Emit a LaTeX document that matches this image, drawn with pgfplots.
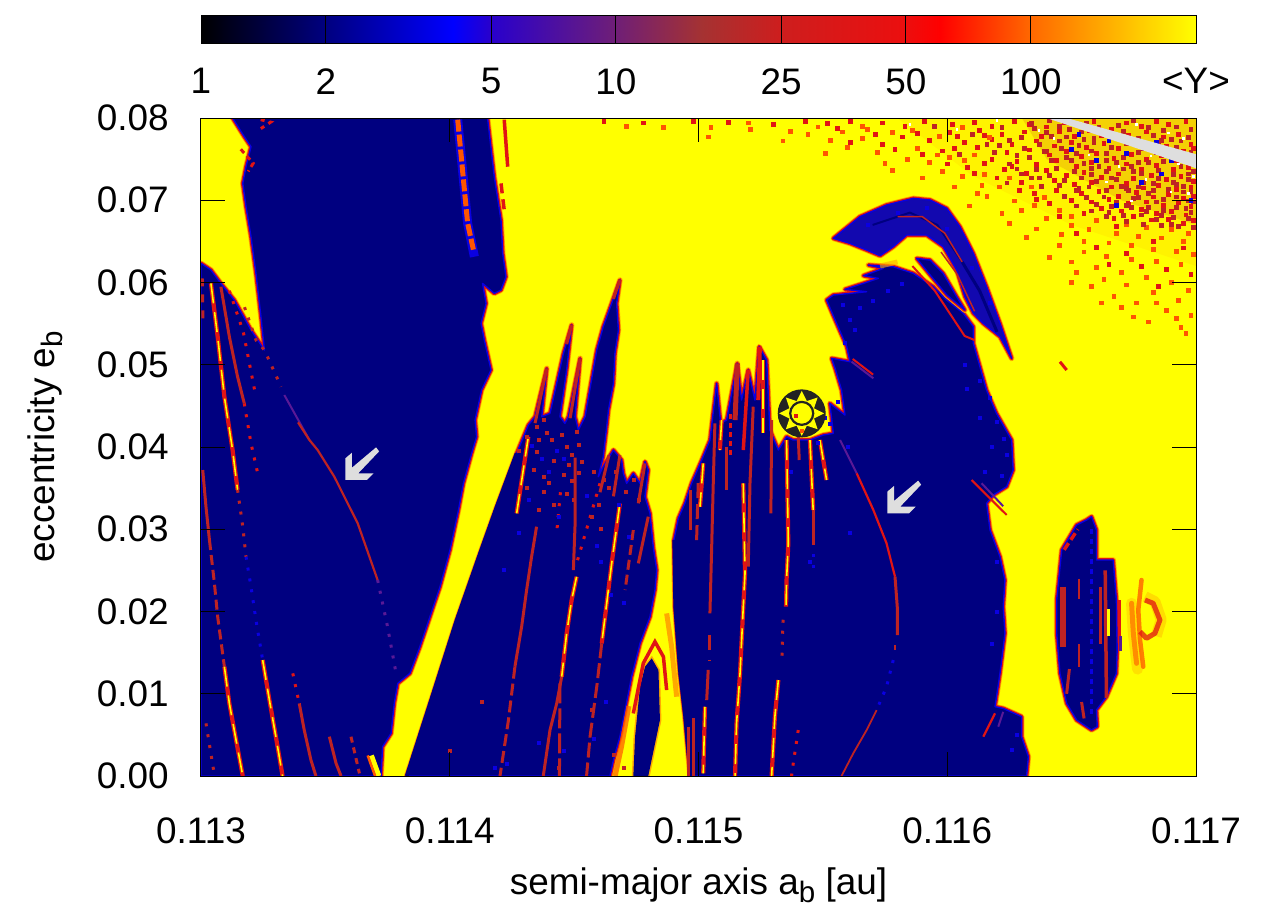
\documentclass[border=0pt]{standalone}
\usepackage{fontspec}
\setmainfont{Liberation Sans}
\usepackage{pgfplots}
\usepackage{pgfplotstable}
\pgfplotsset{compat=1.18}

\definecolor{mapyellow}{RGB}{255,255,0}
\definecolor{mapnavy}{RGB}{0,0,128}
\definecolor{mapblue}{RGB}{10,0,225}
\definecolor{crescent}{RGB}{18,8,175}
\definecolor{mapbrick}{RGB}{190,35,35}
\definecolor{mapred}{RGB}{225,20,20}
\definecolor{maporange}{RGB}{255,85,0}
\definecolor{mapamber}{RGB}{255,170,0}
\definecolor{mappurple}{RGB}{90,25,150}
\definecolor{mapgray}{RGB}{222,222,222}
\definecolor{sundark}{RGB}{35,35,35}

\newcommand\labelfont{\fontsize{10.5}{12}\selectfont}
\newcommand\sub[1]{\raisebox{-0.4ex}{\fontsize{8.4}{8}\selectfont #1}}

% sun symbol, sizes in the same 0.1mm = 1px scale as the axes
\pgfdeclareplotmark{sunmark}{%
  \pgfsetfillcolor{sundark}%
  \pgfpathcircle{\pgfpointorigin}{2.4mm}\pgfusepathqfill
  \pgfsetfillcolor{mapyellow}%
  \foreach \a in {0,45,...,315}{%
    \pgfmathsetmacro\pa{\a+27}\pgfmathsetmacro\pb{\a-27}%
    \pgfpathmoveto{\pgfpointpolar{\a}{2.25mm}}%
    \pgfpathlineto{\pgfpointpolar{\pa}{1.25mm}}%
    \pgfpathlineto{\pgfpointpolar{\pb}{1.25mm}}%
    \pgfpathclose\pgfusepathqfill
  }%
  \pgfsetstrokecolor{sundark}\pgfsetlinewidth{0.22mm}%
  \pgfpathcircle{\pgfpointorigin}{1.15mm}\pgfusepathqfillstroke
}

% stable regions: outlines read off the map
\pgfplotstableread{
x y
0.113000 0
0.113000 0.06233
0.113040 0.06152
0.113080 0.05989
0.113134 0.05787
0.113201 0.05422
0.113255 0.05179
0.113241 0.05584
0.113221 0.06111
0.113201 0.06557
0.113181 0.06922
0.113168 0.07205
0.113181 0.07408
0.113201 0.07651
0.113174 0.07773
0.113127 0.08000
0.114152 0.08000
0.114179 0.07286
0.114206 0.06760
0.114213 0.06354
0.114226 0.06070
0.114206 0.05908
0.114179 0.05868
0.114132 0.05989
0.114146 0.05746
0.114126 0.05503
0.114139 0.05300
0.114166 0.04936
0.114128 0.04693
0.114102 0.04328
0.114108 0.04125
0.114088 0.03923
0.114055 0.03558
0.114035 0.03234
0.114001 0.02747
0.113961 0.02302
0.113907 0.01815
0.113880 0.01572
0.113840 0.01248
0.113791 0.01126
0.113777 0.00883
0.113764 0.00518
0.113730 0.00356
0.113724 0
}\polyA

\pgfplotstableread{
x y
0.113827 0
0.113934 0.01005
0.114028 0.01896
0.114122 0.02707
0.114189 0.03274
0.114269 0.03923
0.114316 0.04267
0.114343 0.04369
0.114390 0.04956
0.114370 0.04369
0.114403 0.04409
0.114457 0.05139
0.114490 0.05483
0.114470 0.04936
0.114443 0.04369
0.114463 0.04288
0.114477 0.04369
0.114524 0.05078
0.114504 0.04369
0.114517 0.04207
0.114544 0.04369
0.114591 0.05179
0.114617 0.05463
0.114658 0.05807
0.114684 0.06030
0.114671 0.05747
0.114678 0.05422
0.114664 0.05139
0.114658 0.04774
0.114638 0.04450
0.114631 0.04247
0.114617 0.03882
0.114597 0.03639
0.114617 0.03761
0.114658 0.03963
0.114691 0.03842
0.114698 0.03680
0.114711 0.03558
0.114738 0.03680
0.114765 0.03558
0.114785 0.03822
0.114798 0.03720
0.114785 0.03396
0.114805 0.03193
0.114818 0.02788
0.114832 0.02504
0.114825 0.02261
0.114805 0.01937
0.114765 0.01613
0.114731 0.01207
0.114684 0.00478
0.114658 0.00194
0.114644 0
}\polyB

\pgfplotstableread{
x y
0.114738 0
0.114745 0.00478
0.114765 0.01086
0.114785 0.01329
0.114812 0.01430
0.114839 0.01288
0.114845 0.00680
0.114798 0
}\polyC

\pgfplotstableread{
x y
0.114966 0
0.114945 0.00721
0.114925 0.01248
0.114905 0.02059
0.114901 0.02869
0.114919 0.03133
0.114945 0.03315
0.114972 0.03558
0.115013 0.03842
0.115046 0.04085
0.115073 0.04774
0.115089 0.04288
0.115113 0.04328
0.115156 0.05017
0.115173 0.04571
0.115200 0.04936
0.115227 0.04571
0.115244 0.05220
0.115274 0.05058
0.115287 0.04207
0.115321 0.03964
0.115354 0.04126
0.115381 0.04085
0.115448 0.04085
0.115502 0.04146
0.115542 0.04166
0.115528 0.04531
0.115589 0.04389
0.115575 0.04693
0.115549 0.04956
0.115535 0.05078
0.115609 0.05037
0.115596 0.05219
0.115555 0.05503
0.115515 0.05787
0.115542 0.05848
0.115676 0.05888
0.115589 0.05917
0.115723 0.06050
0.115663 0.06083
0.115743 0.06172
0.115683 0.06212
0.115783 0.06192
0.115864 0.06111
0.115944 0.05949
0.115998 0.05787
0.116065 0.05625
0.116105 0.05463
0.116105 0.05260
0.116158 0.04692
0.116198 0.04409
0.116259 0.04085
0.116265 0.03720
0.116239 0.03518
0.116185 0.03416
0.116158 0.03315
0.116172 0.02991
0.116212 0.02667
0.116232 0.02383
0.116225 0.02059
0.116232 0.01734
0.116212 0.01248
0.116192 0.00843
0.116225 0.00822
0.116299 0.00722
0.116299 0.00478
0.116326 0.00235
0.116319 0
}\polyD

\pgfplotstableread{
x y
0.115542 0.06537
0.115649 0.06800
0.115756 0.06942
0.115864 0.07023
0.115931 0.07003
0.115998 0.06901
0.116051 0.06678
0.116105 0.06354
0.116158 0.05949
0.116212 0.05503
0.116259 0.05077
0.116212 0.05341
0.116145 0.05503
0.116105 0.05625
0.116071 0.05827
0.116038 0.06152
0.115984 0.06435
0.115917 0.06577
0.115837 0.06577
0.115783 0.06435
0.115730 0.06326
0.115676 0.06395
0.115609 0.06476
}\polyE

\pgfplotstableread{
x y
0.115877 0.06293
0.115931 0.06273
0.115984 0.06110
0.116038 0.05827
0.116071 0.05665
0.115998 0.05848
0.115931 0.06091
}\polyF

\pgfplotstableread{
x y
0.116580 0.03153
0.116600 0.02991
0.116600 0.02626
0.116667 0.02626
0.116680 0.02140
0.116683 0.01532
0.116680 0.01248
0.116640 0.00965
0.116600 0.00803
0.116603 0.00600
0.116580 0.00560
0.116520 0.00681
0.116480 0.00884
0.116453 0.01248
0.116440 0.01735
0.116440 0.02140
0.116460 0.02748
0.116520 0.03052
0.116560 0.03113
}\polyG

\newcommand\blob[2][mapnavy]{%
  \addplot[draw=mapamber, line width=.55mm, line join=round] table {#2} -- cycle;
  \addplot[draw=mapred, line width=.38mm, line join=round] table {#2} -- cycle;
  \addplot[fill=#1, draw=mapblue, line width=.14mm, line join=round] table {#2} -- cycle;
}
% chaotic line with a yellow core
\newcommand\hotline[1]{%
  \addplot[draw=mapred, line width=.42mm] coordinates {#1};
  \addplot[draw=mapyellow, line width=.16mm, dash pattern=on 2mm off .9mm] coordinates {#1};
}
\pgfplotsset{
  thin line/.style={draw=mapbrick, line width=.3mm},
  sparse/.style={draw=#1, line width=.3mm, dash pattern=on .3mm off .8mm},
  speck/.style={only marks, mark=square*, mark size=.15mm, color=#1, mark options={solid, line width=0pt, fill=#1, draw=#1}},
  sea/.style={only marks, mark=square*, mark size=.19mm, color=#1, mark options={solid, line width=0pt, fill=#1, draw=#1}},
}

\begin{document}
\begin{tikzpicture}
\path[use as bounding box] (-2.01,-1.44) rectangle (10.79,7.76);

% colour scale
\begin{axis}[
  at={(0cm,7.32cm)}, anchor=south west,
  scale only axis, width=9.95cm, height=0.29cm,
  xmode=log, xmin=1, xmax=250, ymin=0, ymax=1,
  ytick=\empty,
  xtick={1,2,5,10,25,50,100,250},
  xticklabels={1,2,5,10,25,50,100,{<Y>}},
  minor xtick={},
  xtick pos=bottom,
  tick align=inside, major tick length=0.29cm,
  tick style={black, line width=.1mm},
  axis line style={black, line width=.1mm},
  xticklabel style={font=\labelfont, yshift=-1.2mm},
  axis on top,
  colormap={megno}{
    rgb255(0pt)=(0,0,0);
    rgb255(125pt)=(0,0,128);
    rgb255(252pt)=(0,0,255);
    rgb255(289pt)=(40,0,205);
    rgb255(413pt)=(110,30,120);
    rgb255(501pt)=(165,50,50);
    rgb255(578pt)=(205,30,30);
    rgb255(702pt)=(235,15,15);
    rgb255(739pt)=(255,0,0);
    rgb255(826pt)=(255,100,0);
    rgb255(995pt)=(255,255,0)
  },
]
\addplot[surf, shader=interp, mesh/rows=2, point meta=\thisrow{m}] table {
x y m
1 0 0
250 0 995
1 1 0
250 1 995
};
\end{axis}

% dynamical map
\begin{axis}[
  at={(0cm,0cm)}, anchor=south west,
  scale only axis, width=9.95cm, height=6.58cm,
  xmin=0.113, xmax=0.117, ymin=0, ymax=0.08,
  xtick={0.113,0.114,0.115,0.116,0.117},
  ytick={0,0.01,...,0.08},
  scaled x ticks=false, scaled y ticks=false,
  xticklabel style={/pgf/number format/.cd, fixed, zerofill, precision=3, assume math mode=true, /tikz/.cd, yshift=-2.9mm},
  yticklabel style={/pgf/number format/.cd, fixed, zerofill, precision=2, assume math mode=true, /tikz/.cd, xshift=-2mm},
  tick label style={font=\labelfont},
  label style={font=\labelfont},
  x label style={at={(axis description cs:0.5,0)}, anchor=center, yshift=-1.09cm},
  y label style={at={(axis description cs:0,0.5)}, anchor=center, yshift=1.56cm},
  tick align=inside, major tick length=0.24cm,
  tick style={black, line width=.1mm},
  axis line style={black, line width=.1mm},
  xlabel={semi-major axis a\sub{b} [au]},
  ylabel={eccentricity e\sub{b}},
  axis background/.style={fill=mapyellow},
  axis on top,
  clip mode=individual,
]

% haze of the chaotic sea, densest at the upper right
\addplot[fill=maporange, draw=none, opacity=.07] coordinates {(0.1158,0.08)(0.117,0.08)(0.117,0.0620)(0.1165,0.0670)(0.1161,0.0730)} -- cycle;
\addplot[fill=mapbrick, draw=none, opacity=.16] coordinates {(0.1163,0.08)(0.117,0.08)(0.117,0.0670)(0.1167,0.0700)(0.1164,0.0750)} -- cycle;

\blob{\polyA}
\blob{\polyB}
\blob{\polyD}
\blob[crescent]{\polyE}
\blob{\polyF}
\blob{\polyG}

% sharp edges on the right of the wide band
\addplot[draw=mapnavy, line width=.38mm] coordinates {(0.113827,0)(0.113934,0.01005)(0.114028,0.01896)(0.114122,0.02707)(0.114189,0.03274)(0.114269,0.03923)};
\addplot[draw=mapnavy, line width=.3mm] coordinates {(0.114966,0)(0.114945,0.00721)(0.114925,0.01248)(0.114905,0.02059)(0.114901,0.02869)};

% second oval below the arc
\addplot[draw=mapamber, line width=.3mm] coordinates {(0.114738,0)(0.114745,0.00478)(0.114765,0.01086)(0.114785,0.01329)(0.114812,0.0143)(0.114839,0.01288)(0.114845,0.0068)(0.114798,0)};
\addplot[fill=mapnavy, draw=none] table {\polyC} -- cycle;
\addplot[draw=mapred, line width=.35mm] coordinates {(0.114738,0.00761)(0.114778,0.0137)(0.114825,0.01633)(0.114859,0.0145)(0.114872,0.01045)};
\addplot[draw=maporange, line width=.5mm, opacity=.5] coordinates {(0.114872,0.01977)(0.114892,0.01572)(0.114912,0.00964)};
\addplot[draw=maporange, line width=.5mm, opacity=.7] coordinates {(0.114665,0)(0.114690,0.0035)(0.114720,0.0085)};

% top left: chaotic strip inside the stable island
\addplot[draw=mapblue, line width=.9mm] coordinates {(0.114032,0.0798)(0.114045,0.0757)(0.114059,0.07124)(0.114072,0.06719)(0.114099,0.06314)};
\addplot[draw=maporange, line width=.5mm, dash pattern=on 1.2mm off .3mm] coordinates {(0.114032,0.0798)(0.114045,0.0757)(0.114059,0.07124)(0.114072,0.06719)(0.114095,0.0640)};
\addplot[draw=mapred, line width=.35mm] coordinates {(0.114219,0.0798)(0.114233,0.07408)};
\addplot[draw=mapred, line width=.35mm, dash pattern=on 1mm off .6mm] coordinates {(0.114206,0.07205)(0.114219,0.0688)};
\addplot[draw=mapred, line width=.3mm, dash pattern=on .4mm off .5mm] coordinates {(0.11324,0.0798)(0.11328,0.0795)(0.11323,0.0785)};
\addplot[draw=mapred, line width=.3mm, dash pattern=on .5mm off .4mm] coordinates {(0.11316,0.0762)(0.11321,0.0745)(0.11319,0.0735)};
\addplot[thin line, dash pattern=on .8mm off .8mm] coordinates {(0.113005,0.0605)(0.113008,0.0555)};

% lines in the left island
\hotline{(0.113040,0.05989)(0.113067,0.05341)(0.113094,0.04611)(0.113127,0.03963)(0.113147,0.0348)}
\addplot[sparse=mapbrick] coordinates {(0.113147,0.0348)(0.113168,0.03031)(0.113181,0.02666)};
\addplot[sparse=mapblue] coordinates {(0.113181,0.02666)(0.113201,0.02302)(0.113221,0.01896)(0.113248,0.0141)};
\hotline{(0.113248,0.0141)(0.113275,0.00924)(0.113301,0.00478)(0.113328,0)}
\addplot[thin line] coordinates {(0.113007,0.0372)(0.11302,0.03274)(0.113034,0.02869)};
\addplot[thin line, dash pattern=on 1mm off .5mm] coordinates {(0.113034,0.02869)(0.113054,0.02342)(0.113067,0.01937)(0.113094,0.01329)};
\hotline{(0.113094,0.01329)(0.113114,0.00883)(0.113141,0.00437)(0.113168,0)}
\addplot[thin line] coordinates {(0.11308,0.05949)(0.113114,0.05341)(0.113147,0.04855)(0.113174,0.0453)};
\addplot[sparse=mapred] coordinates {(0.113174,0.0453)(0.113201,0.04044)(0.113228,0.0368)};
\addplot[sparse=mapred] coordinates {(0.113114,0.0590)(0.11317,0.0540)(0.113215,0.0470)};
\addplot[sparse=mapbrick] coordinates {(0.113175,0.0570)(0.113221,0.0530)(0.113255,0.05179)(0.113322,0.04733)};
\addplot[draw=mappurple, line width=.2mm] coordinates {(0.113335,0.04632)(0.113436,0.04085)};
\addplot[draw=mapbrick, line width=.22mm] coordinates {(0.113390,0.04300)(0.113436,0.04085)(0.113469,0.03963)(0.113536,0.03639)(0.11363,0.03072)(0.11371,0.02383)};
\addplot[sparse=mappurple] coordinates {(0.11371,0.02383)(0.11375,0.01815)(0.113784,0.0125)};
\addplot[sparse=mapred] coordinates {(0.113369,0.01248)(0.113395,0.00883)};
\addplot[thin line] coordinates {(0.113395,0.00883)(0.113415,0.00559)(0.113442,0.00194)(0.113462,0)};
\addplot[thin line] coordinates {(0.113516,0.00478)(0.113543,0.00154)(0.113563,0)};
\addplot[thin line, dash pattern=on .6mm off .5mm] coordinates {(0.113603,0.00478)(0.113637,0.00032)};
\addplot[sparse=mapbrick] coordinates {(0.11302,0.0064)(0.113054,0.0001)};
\addplot[draw=mapyellow, line width=.5mm] coordinates {(0.113685,0.0025)(0.113715,0)};
\addplot[draw=maporange, line width=.25mm] coordinates {(0.113670,0.0025)(0.113700,0)};

% lines in the second group
\addplot[thin line] coordinates {(0.114349,0.03031)(0.114329,0.02666)(0.114309,0.02261)(0.114289,0.01815)(0.114262,0.01329)};
\addplot[thin line, dash pattern=on 1.2mm off .5mm] coordinates {(0.114262,0.01329)(0.114236,0.0068)(0.114202,0)};
\hotline{(0.11451,0.02423)(0.11449,0.0214)(0.11447,0.01734)(0.11445,0.01207)}
\addplot[thin line] coordinates {(0.11445,0.01207)(0.11443,0.00883)(0.114403,0.00559)(0.114376,0)};
\addplot[thin line, dash pattern=on 2mm off .5mm] coordinates {(0.114443,0.01126)(0.114441,0)};
\addplot[thin line] coordinates {(0.114504,0.0387)(0.114504,0.03072)(0.114497,0.02504)};
\addplot[sparse=mapred] coordinates {(0.114445,0.0345)(0.114430,0.0296)};
\hotline{(0.114684,0.03315)(0.114651,0.02585)(0.114631,0.02099)(0.114611,0.01613)}
\addplot[thin line, dash pattern=on 1.5mm off .5mm] coordinates {(0.114611,0.01613)(0.114591,0.01086)(0.114564,0.00478)(0.11455,0)};
\addplot[sparse=mapred] coordinates {(0.114604,0.03558)(0.11451,0.02585)};
\addplot[thin line] coordinates {(0.114798,0.03153)(0.114758,0.02585)};
\addplot[thin line, dash pattern=on 1mm off .5mm] coordinates {(0.114738,0.0299)(0.114705,0.02261)};
\addplot[thin line] coordinates {(0.114785,0.03801)(0.114758,0.03315)};
\addplot[thin line] coordinates {(0.11439,0.04956)(0.114343,0.04290)};
\addplot[thin line] coordinates {(0.114524,0.05078)(0.114484,0.04350)};
\addplot[thin line] coordinates {(0.11449,0.05483)(0.11447,0.0525)};
\addplot[thin line] coordinates {(0.114684,0.0603)(0.114658,0.0580)};
\hotline{(0.114316,0.04125)(0.114269,0.03193)}
\addplot[thin line] coordinates {(0.114640,0.0390)(0.114604,0.0345)};
\addplot[thin line] coordinates {(0.114684,0.0390)(0.114658,0.0340)};
\addplot[speck=mapbrick] coordinates {
(.11435,.04247)(.11438,.04328)(.11439,.04166)(.11435,.03943)(.11431,.04120)(.11436,.04090)(.11441,.04080)(.11428,.03950)
(.11434,.03720)(.11438,.03640)(.11440,.03560)(.11445,.04140)(.11447,.04000)(.11449,.03900)(.11452,.04020)(.11451,.04180)
(.11448,.03780)(.11446,.03660)(.11442,.03830)(.11453,.03820)(.11449,.03590)(.11447,.03430)(.11442,.03300)(.11436,.03240)
(.11450,.03350)(.11452,.03680)(.11438,.03450)(.11431,.03500)(.11458,.03700)(.11462,.03600)(.11460,.03300)(.11457,.03150)
(.11467,.03700)(.11464,.03500)(.11461,.03000)(.11474,.03600)(.11471,.03450)(.11476,.03350)};
\addplot[speck=mapblue] coordinates {
(.11433,.04010)(.11437,.03850)(.11443,.03950)(.11446,.03850)(.11440,.03700)(.11432,.03350)(.11428,.02950)(.11422,.02500)
(.11444,.03150)(.11455,.03400)(.11459,.02800)(.11468,.03300)(.11472,.02900)(.11465,.02200)(.11470,.02100)(.11418,.00100)
(.11461,.02600)(.11463,.00900)(.11458,.00450)(.11436,.00400)(.11446,.00300)(.11423,.00150)};
\addplot[speck=mapbrick] coordinates {
(.11413,.00900)(.11400,.00300)(.11444,.00100)(.11457,.00800)(.11470,.00100)(.11466,.00250)};

% lines in the third group
\addplot[thin line] coordinates {(0.114966,0.03477)(0.114966,0.0299)};
\addplot[thin line, dash pattern=on 1.5mm off .6mm] coordinates {(0.114999,0.0356)(0.114992,0.0283)};
\addplot[thin line] coordinates {(0.115066,0.04288)(0.115059,0.03518)(0.115053,0.02788)(0.115046,0.01977)};
\addplot[draw=mapbrick, line width=.3mm, dash pattern=on 1.5mm off 1mm] coordinates {(0.115043,0.0172)(0.115043,0.0140)};
\addplot[thin line] coordinates {(0.115039,0.0129)(0.115033,0.00923)};
\hotline{(0.115026,0.00842)(0.115019,0.00032)}
\addplot[thin line] coordinates {(0.114959,0.006)(0.114959,0)};
\addplot[thin line] coordinates {(0.114979,0.0070)(0.114979,0)};
\addplot[thin line] coordinates {(0.115113,0.04004)(0.115113,0.03477)};
\addplot[draw=mapbrick, line width=.5mm] coordinates {(0.115156,0.05017)(0.115147,0.04328)};
\addplot[draw=mapred, line width=.35mm] coordinates {(0.1152,0.04936)(0.11518,0.03963)};
\addplot[draw=mapred, line width=.4mm] coordinates {(0.115247,0.0522)(0.11524,0.04571)};
\hotline{(0.115019,0.03801)(0.115006,0.03274)}
\hotline{(0.115093,0.04328)(0.115086,0.03963)}
\hotline{(0.115180,0.03558)(0.115187,0.02464)(0.115180,0.02059)(0.115167,0.01248)(0.115153,0.0064)(0.115147,0)}
\addplot[thin line] coordinates {(0.11522,0.0449)(0.115207,0.03558)(0.1152,0.02545)};
\hotline{(0.11526,0.05058)(0.11526,0.04166)}
\addplot[thin line] coordinates {(0.115294,0.04328)(0.115291,0.03194)};
\hotline{(0.115354,0.04085)(0.115361,0.02829)(0.115354,0.02383)(0.115352,0.02059)}
\addplot[sparse=mapbrick] coordinates {(0.115340,0.0190)(0.115335,0.0140)};
\hotline{(0.115321,0.01167)(0.115307,0.00721)(0.115294,0)}
\hotline{(0.115448,0.04085)(0.115461,0.03234)}
\addplot[thin line] coordinates {(0.115461,0.03234)(0.115461,0.02809)};
\addplot[sparse=mapblue] coordinates {(0.115461,0.0270)(0.115461,0.0250)};
\hotline{(0.115488,0.04085)(0.115515,0.03599)}
\addplot[thin line] coordinates {(0.115401,0.04126)(0.115405,0.03842)};
\addplot[sparse=mapred] coordinates {(0.115401,0.00559)(0.115381,0.00154)(0.115374,0)};
\addplot[draw=mapred, line width=.3mm, dash pattern=on .5mm off .4mm] coordinates {(0.115130,0.0390)(0.115130,0.0440)};

% curve with the second arrow
\addplot[draw=mappurple, line width=.2mm] coordinates {(0.115569,0.04085)(0.115636,0.0368)};
\addplot[draw=mapred, line width=.22mm] coordinates {(0.115636,0.0368)(0.115703,0.03234)(0.115756,0.02829)(0.11579,0.02423)};
\addplot[draw=mapbrick, line width=.3mm] coordinates {(0.11579,0.02423)(0.115799,0.02059)(0.115799,0.01714)};
\addplot[draw=mapbrick, line width=.25mm] coordinates {(0.11579,0.01590)(0.11579,0.01532)};
\addplot[sparse=mapblue] coordinates {(0.115783,0.0141)(0.115756,0.01086)(0.115716,0.00802)};
\addplot[draw=mapbrick, line width=.18mm] coordinates {(0.115716,0.00802)(0.115676,0.00559)(0.115622,0.00275)(0.115575,0)};

% short streaks at the edges of the stable region
\addplot[draw=mappurple, line width=.2mm] coordinates {(0.115615,0.05038)(0.115703,0.04835)};
\addplot[draw=mapred, line width=.2mm] coordinates {(0.116098,0.03599)(0.116239,0.03173)};
\addplot[draw=mappurple, line width=.2mm] coordinates {(0.116138,0.03560)(0.116225,0.03280)};
\addplot[draw=mapred, line width=.22mm] coordinates {(0.116145,0.00478)(0.116192,0.00762)};
\addplot[draw=mappurple, line width=.2mm] coordinates {(0.116205,0.0060)(0.116225,0.0078)};
\addplot[draw=mapred, line width=.3mm] coordinates {(0.116453,0.05037)(0.11648,0.04936)};
\addplot[draw=mapred, line width=.2mm] coordinates {(0.11562,0.05070)(0.115702,0.04880)};

% crescent details
\addplot[draw=mapnavy, line width=.2mm] coordinates {(0.115700,0.0670)(0.115850,0.0685)(0.115960,0.0670)(0.116060,0.0625)};
\addplot[draw=mapbrick, line width=.15mm] coordinates {(0.115800,0.0680)(0.115900,0.0680)(0.115990,0.0660)(0.116080,0.0615)};
\addplot[draw=mapnavy, line width=.3mm] coordinates {(0.116060,0.0625)(0.116130,0.0590)(0.116200,0.0540)};
\addplot[draw=mapbrick, line width=.15mm] coordinates {(0.115975,0.06370)(0.116040,0.0610)(0.116110,0.0565)};
\addplot[draw=mapamber, line width=.5mm, opacity=.6] coordinates {(0.115730,0.0620)(0.115800,0.0625)};
\addplot[draw=mapred, line width=.2mm] coordinates {(0.115860,0.0620)(0.115950,0.0590)(0.116070,0.0535)(0.116110,0.0530)};
\addplot[speck=mapblue] coordinates {
(.11558,.05730)(.11561,.05550)(.11565,.05690)(.11570,.05780)(.11563,.05420)(.11576,.05900)(.11582,.05980)(.11559,.05260)
(.11607,.05000)(.11613,.04800)(.11617,.04600)(.11620,.04300)(.11623,.04100)(.11624,.03900)(.11618,.04000)(.11613,.04350)
(.11608,.04700)(.11622,.03650)(.11615,.03700)(.11620,.02000)(.11618,.01600)(.11628,.00500)(.11626,.00320)(.11620,.02600)
(.11556,.04550)(.11551,.04350)(.11553,.04280)(.11548,.04050)(.11560,.04000)(.11561,.02950)(.11545,.02600)(.11537,.03700)
(.11568,.06700)(.11580,.06850)(.11592,.06900)(.11600,.06650)(.11610,.06180)(.11617,.05750)};

% structure at the lower right
\addplot[draw=mapbrick, line width=.6mm] coordinates {(0.116467,0.02302)(0.116467,0.01572)};
\addplot[draw=mapbrick, line width=.25mm] coordinates {(0.11653,0.02400)(0.11653,0.02150)};
\addplot[draw=mapbrick, line width=.25mm] coordinates {(0.11653,0.01600)(0.11653,0.01330)};
\addplot[draw=mapbrick, line width=.3mm] coordinates {(0.116491,0.01300)(0.116480,0.0100)};
\addplot[draw=mapbrick, line width=.3mm] coordinates {(0.11654,0.0090)(0.11655,0.0070)};
\addplot[draw=mapred, line width=.35mm, dash pattern=on .8mm off .4mm] coordinates {(0.116470,0.02750)(0.116525,0.03000)};
\addplot[draw=mapbrick, line width=.35mm] coordinates {(0.116635,0.02500)(0.116640,0.00950)};
\addplot[draw=mapbrick, line width=.3mm] coordinates {(0.116615,0.02300)(0.116615,0.01600)};
\addplot[draw=mapyellow, line width=.3mm] coordinates {(0.116648,0.02030)(0.116648,0.01700)};
\addplot[draw=mapred, line width=.3mm] coordinates {(0.116691,0.0214)(0.116691,0.0170)};
\addplot[draw=mappurple, line width=.3mm] coordinates {(0.116696,0.0170)(0.116696,0.0152)};
\addplot[draw=mapblue, line width=.3mm, dash pattern=on .5mm off .5mm] coordinates {(0.116580,0.0300)(0.116580,0.0070)};

% spiral to the right of the oval
\addplot[draw=mapamber, line width=1.1mm, opacity=.35, line cap=round] coordinates {(0.116741,0.0210)(0.116748,0.01735)(0.116765,0.0130)};
\addplot[draw=maporange, line width=.45mm, opacity=.75, line cap=round] coordinates {(0.116781,0.02383)(0.116768,0.02018)(0.116775,0.01654)(0.116788,0.01329)};
\addplot[draw=maporange, line width=.5mm, opacity=.6, line cap=round] coordinates {(0.116741,0.021)(0.116748,0.01735)(0.116761,0.0137)};
\addplot[draw=mapamber, line width=1.1mm, opacity=.4, line join=round] coordinates {(0.116795,0.0218)(0.116835,0.0212)(0.116860,0.0190)(0.116840,0.0170)};
\addplot[draw=mapred, line width=.5mm, opacity=.75, line join=round] coordinates {(0.116795,0.0214)(0.116828,0.0210)(0.116855,0.01897)(0.116835,0.01735)(0.116801,0.01674)(0.116775,0.01755)};

% chaotic sea: single grid cells read off the upper right
\addplot[sea=mapred] coordinates {
(.11462,.0796)(.11478,.0794)(.11498,.0796)(.11512,.0795)(.11530,.0792)(.11543,.0796)(.11552,.0793)(.11561,.0796)(.11574,.0794)(.11583,.0790)
(.11591,.0796)(.11602,.0792)(.11611,.0795)(.11618,.0790)(.11627,.0796)(.11633,.0792)(.11640,.0789)(.11647,.0795)(.11653,.0791)(.11659,.0796)
(.11672,.0794)(.11678,.0790)(.11684,.0796)(.11689,.0792)(.11696,.0796)(.11601,.0782)(.11613,.0785)(.11622,.0780)(.11631,.0783)(.11638,.0778)
(.11645,.0784)(.11651,.0778)(.11657,.0785)(.11662,.0779)(.11666,.0786)(.11673,.0779)(.11680,.0783)(.11687,.0777)(.11693,.0780)(.11698,.0768)
(.11582,.0777)(.11593,.0773)(.11607,.0770)(.11618,.0774)(.11626,.0768)(.11636,.0772)(.11643,.0766)(.11650,.0770)(.11656,.0764)(.11663,.0769)
(.11669,.0763)(.11676,.0768)(.11682,.0762)(.11688,.0766)(.11695,.0760)(.11699,.0763)(.11574,.0768)(.11598,.0760)(.11612,.0764)(.11624,.0758)
(.11633,.0761)(.11641,.0755)(.11648,.0759)(.11654,.0753)(.11660,.0757)(.11667,.0751)(.11674,.0756)(.11680,.0750)(.11686,.0754)(.11692,.0748)
(.11698,.0752)(.11618,.0750)(.11628,.0747)(.11636,.0743)(.11644,.0748)(.11652,.0741)(.11658,.0746)(.11665,.0739)(.11672,.0744)(.11678,.0738)
(.11684,.0742)(.11691,.0737)(.11697,.0740)(.11608,.0740)(.11623,.0737)(.11632,.0733)(.11640,.0736)(.11648,.0730)(.11655,.0734)(.11662,.0728)
(.11669,.0732)(.11675,.0726)(.11682,.0730)(.11688,.0725)(.11694,.0729)(.11699,.0723)(.11630,.0722)(.11643,.0724)(.11651,.0719)(.11658,.0722)
(.11666,.0716)(.11672,.0720)(.11679,.0715)(.11685,.0718)(.11692,.0713)(.11698,.0716)(.11644,.0712)(.11654,.0708)(.11661,.0711)(.11669,.0705)
(.11676,.0709)(.11683,.0704)(.11689,.0707)(.11695,.0702)(.11699,.0705)(.11635,.0708)(.11650,.0700)(.11658,.0698)(.11665,.0701)(.11673,.0696)
(.11680,.0698)(.11687,.0694)(.11693,.0697)(.11698,.0692)(.11641,.0696)(.11662,.0690)(.11670,.0687)(.11678,.0689)(.11684,.0684)(.11690,.0686)
(.11696,.0682)(.11655,.0684)(.11667,.0678)(.11675,.0680)(.11682,.0676)(.11689,.0677)(.11695,.0672)(.11699,.0675)
(.11556,.0787)(.11571,.0780)(.11588,.0781)(.11604,.0778)(.11615,.0779)(.11561,.0770)(.11579,.0762)(.11590,.0756)(.11603,.0763)(.11615,.0745)
(.11626,.0741)(.11600,.0744)(.11611,.0733)(.11620,.0727)(.11629,.0712)(.11636,.0701)(.11645,.0680)(.11652,.0660)(.11668,.0668)(.11683,.0650)
(.11695,.0642)(.11660,.0643)(.11672,.0635)(.11688,.0616)(.11698,.0610)(.11665,.0622)(.11678,.0619)(.11685,.0595)};
\addplot[sea=maporange] coordinates {
(.11471,.0790)(.11505,.0788)(.11521,.0786)(.11537,.0784)(.11548,.0789)(.11558,.0783)(.11568,.0786)(.11578,.0782)(.11586,.0785)(.11597,.0778)
(.11606,.0788)(.11617,.0776)(.11553,.0773)(.11566,.0775)(.11572,.0758)(.11588,.0763)(.11601,.0752)(.11611,.0755)(.11584,.0750)(.11593,.0746)
(.11560,.0764)(.11551,.0757)(.11575,.0745)(.11598,.0735)(.11606,.0729)(.11615,.0731)(.11625,.0727)(.11634,.0716)(.11621,.0716)(.11639,.0703)
(.11612,.0708)(.11627,.0699)(.11635,.0694)(.11645,.0688)(.11650,.0680)(.11660,.0675)(.11672,.0670)(.11680,.0667)(.11690,.0664)(.11697,.0660)
(.11630,.0688)(.11640,.0678)(.11650,.0669)(.11657,.0664)(.11668,.0660)(.11677,.0656)(.11686,.0654)(.11695,.0650)(.11625,.0672)(.11636,.0665)
(.11646,.0658)(.11655,.0650)(.11665,.0648)(.11674,.0645)(.11683,.0640)(.11692,.0638)(.11699,.0634)(.11632,.0655)(.11645,.0645)(.11655,.0637)
(.11664,.0632)(.11674,.0628)(.11684,.0626)(.11694,.0622)(.11650,.0625)(.11660,.0618)(.11670,.0612)(.11680,.0606)(.11690,.0600)(.11697,.0590)
(.11672,.0597)(.11683,.0588)(.11663,.0604)(.11693,.0578)(.11676,.0575)(.11688,.0566)(.11667,.0583)(.11698,.0560)(.11681,.0552)(.11694,.0545)
(.11566,.0790)(.11544,.0780)(.11534,.0772)(.11520,.0794)(.11504,.0777)(.11486,.0788)(.11596,.0755)(.11607,.0748)(.11578,.0736)(.11590,.0727)
(.11603,.0716)(.11616,.0705)(.11609,.0693)(.11622,.0684)(.11614,.0718)(.11652,.0612)(.11641,.0630)(.11658,.0595)(.11670,.0570)(.11684,.0575)
(.11692,.0556)(.11662,.0575)(.11696,.0538)(.11650,.0600)(.11675,.0558)};
\addplot[sea=mapbrick] coordinates {
(.11645,.0790)(.11655,.0774)(.11664,.0757)(.11670,.0775)(.11677,.0746)(.11686,.0773)(.11694,.0772)(.11699,.0744)(.11640,.0760)(.11628,.0754)
(.11650,.0748)(.11658,.0739)(.11668,.0725)(.11675,.0735)(.11683,.0720)(.11691,.0722)(.11697,.0732)(.11653,.0714)(.11663,.0704)(.11673,.0712)
(.11684,.0698)(.11695,.0710)(.11665,.0685)(.11677,.0703)(.11687,.0688)(.11696,.0690)(.11672,.0694)(.11681,.0691)(.11690,.0671)(.11642,.0778)
(.11634,.0793)(.11641,.0797)(.11649,.0786)(.11656,.0794)(.11661,.0788)(.11669,.0791)(.11675,.0797)(.11681,.0788)(.11687,.0785)(.11692,.0789)
(.11698,.0786)(.11635,.0787)(.11640,.0782)(.11648,.0777)(.11654,.0783)(.11659,.0775)(.11667,.0780)(.11671,.0784)(.11677,.0775)(.11683,.0779)
(.11690,.0774)(.11697,.0776)(.11630,.0776)(.11637,.0768)(.11645,.0772)(.11653,.0767)(.11659,.0770)(.11666,.0764)(.11672,.0769)(.11679,.0763)
(.11685,.0769)(.11692,.0764)(.11698,.0758)(.11621,.0767)(.11631,.0763)(.11639,.0759)(.11646,.0763)(.11652,.0757)(.11658,.0760)(.11664,.0748)
(.11671,.0752)(.11677,.0758)(.11684,.0758)(.11690,.0756)(.11697,.0747)(.11625,.0744)(.11633,.0752)(.11642,.0748)(.11648,.0752)(.11655,.0745)
(.11661,.0741)(.11668,.0746)(.11674,.0741)(.11681,.0746)(.11687,.0747)(.11694,.0741)(.11699,.0735)(.11628,.0738)(.11636,.0737)(.11644,.0739)
(.11651,.0735)(.11658,.0731)(.11664,.0735)(.11671,.0738)(.11678,.0733)(.11685,.0736)(.11691,.0731)(.11697,.0725)(.11634,.0727)(.11641,.0730)
(.11647,.0724)(.11654,.0727)(.11660,.0723)(.11666,.0727)(.11672,.0714)(.11679,.0722)(.11685,.0726)(.11692,.0719)(.11698,.0711)(.11638,.0717)
(.11645,.0718)(.11652,.0712)(.11657,.0716)(.11664,.0712)(.11670,.0717)(.11677,.0716)(.11683,.0712)(.11689,.0713)(.11695,.0717)(.11699,.0698)
(.11647,.0705)(.11656,.0703)(.11660,.0695)(.11668,.0698)(.11675,.0702)(.11681,.0708)(.11687,.0701)(.11692,.0704)(.11697,.0699)(.11652,.0693)
(.11666,.0692)(.11674,.0691)(.11680,.0686)(.11686,.0681)(.11692,.0691)(.11698,.0685)(.11658,.0687)(.11664,.0680)(.11671,.0681)(.11678,.0682)
(.11684,.0677)(.11691,.0679)(.11697,.0678)(.11672,.0674)(.11679,.0671)(.11686,.0669)(.11693,.0668)(.11699,.0667)
(.11595,.0790)(.11610,.0780)(.11622,.0788)(.11625,.0773)(.11616,.0768)(.11605,.0756)(.11619,.0758)(.11630,.0732)(.11637,.0727)(.11624,.0721)};
\addplot[sea=mapblue] coordinates {
(.11653,.0780)(.11665,.0772)(.11672,.0757)(.11684,.0770)(.11690,.0748)(.11650,.0762)(.11660,.0748)(.11678,.0722)(.11686,.0732)(.11698,.0700)(.11668,.0694)};
\addplot[only marks, mark=square*, mark size=.07mm, color=white, mark options={line width=0pt, fill=white, draw=white}] coordinates {
(.11620,.0797)(.11637,.0785)(.11650,.0795)(.11661,.0783)(.11676,.0792)(.11689,.0782)(.11695,.0775)(.11643,.0775)(.11657,.0755)(.11669,.0741)
(.11682,.0754)(.11693,.0744)(.11699,.0729)(.11664,.0722)(.11680,.0725)(.11690,.0710)(.11697,.0708)(.11674,.0699)(.11585,.0792)(.11604,.0786)};

% the two arrows and the grey bar
\addplot[fill=mapgray, draw=none] coordinates {(0.11358,0.03599)(0.11358,0.03862)(0.113607,0.03931)(0.113607,0.03749)(0.113704,0.03996)(0.113716,0.03947)(0.113632,0.0368)(0.113694,0.0368)(0.113667,0.03599)} -- cycle;
\addplot[fill=mapgray, draw=none] coordinates {(0.115759,0.03194)(0.115759,0.03457)(0.115786,0.03526)(0.115786,0.03344)(0.115883,0.03591)(0.115895,0.03542)(0.115811,0.03275)(0.115873,0.03275)(0.115846,0.03194)} -- cycle;
\addplot[fill=mapgray, draw=none] coordinates {(0.116400,0.08)(0.11648,0.08)(0.117,0.0756)(0.117,0.0739)} -- cycle;

% the observed system
\addplot[only marks, mark=sunmark] coordinates {(0.115415,0.04409)};
\addplot[speck=mapred] coordinates {(0.115390,0.04381)};
\addplot[speck=maporange] coordinates {(0.115415,0.04200)};
\end{axis}
\end{tikzpicture}
\end{document}
